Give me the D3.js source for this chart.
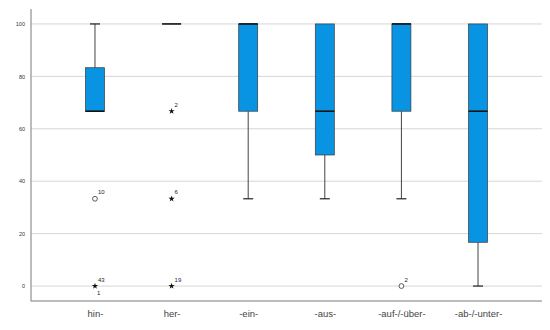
<!DOCTYPE html>
<html>
<head>
<meta charset="utf-8">
<script src="https://cdn.jsdelivr.net/npm/d3@7"></script>
<style>
  body { margin: 0; background: #fff; }
  text { font-family: Arial, "Liberation Sans", sans-serif; }
</style>
</head>
<body>
<div id="chart"></div>
<script>
// Box plot values per category (percent)
const categories = ["hin-", "her-", "-ein-", "-aus-", "-auf-/-über-", "-ab-/-unter-"];
const whiskerLow  = [66.7, 100, 33.3, 33.3, 33.3, 0];
const q1          = [66.7, 100, 66.7, 50, 66.7, 16.7];
const median      = [66.7, 100, 100, 66.7, 100, 66.7];
const q3          = [83.3, 100, 100, 100, 100, 100];
const whiskerHigh = [100, 100, 100, 100, 100, 100];
const yTicks = [0, 20, 40, 60, 80, 100];

// outliers: "o" = circle, "*" = extreme
const outlierCat    = ["hin-", "hin-", "her-", "her-", "her-", "-auf-/-über-"];
const outlierValue  = [33.3, 0, 66.7, 33.3, 0, 0];
const outlierKind   = ["o", "*", "*", "*", "*", "o"];
const outlierCases  = [["10"], ["4", "3", "1"], ["2"], ["6"], ["19"], ["2"]];

const width = 550, height = 330;
const plot = { left: 31, right: 542, top: 9, bottom: 301 };

const svg = d3.select("#chart").append("svg")
    .attr("width", width)
    .attr("height", height);

const x = d3.scalePoint().domain(categories).range([plot.left, plot.right]).padding(0.835);
const y = d3.scaleLinear().domain([-5.7, 105.7]).range([plot.bottom, plot.top]);

// gridlines
svg.append("g")
    .selectAll("line")
    .data(yTicks)
    .join("line")
    .attr("x1", plot.left).attr("x2", plot.right)
    .attr("y1", d => y(d)).attr("y2", d => y(d))
    .attr("stroke", "#d6d6d6")
    .attr("stroke-width", 1);

// y axis
const yAxis = svg.append("g")
    .attr("transform", `translate(${plot.left},0)`)
    .call(d3.axisLeft(y).tickValues(yTicks).tickSize(0).tickPadding(6));
yAxis.select(".domain").remove();
yAxis.selectAll("text").attr("font-size", "5.5px").attr("fill", "#333");

// x axis
const xAxis = svg.append("g")
    .attr("transform", `translate(0,${plot.bottom})`)
    .call(d3.axisBottom(x).tickSize(0).tickPadding(9));
xAxis.select(".domain").remove();
xAxis.selectAll("text").attr("font-size", "9.5px").attr("fill", "#444");

// axis lines
svg.append("line")
    .attr("x1", plot.left).attr("x2", plot.left).attr("y1", plot.top).attr("y2", plot.bottom + 0.5)
    .attr("stroke", "#a6a6a6").attr("stroke-width", 1.5);
svg.append("line")
    .attr("x1", plot.left).attr("x2", plot.right).attr("y1", plot.bottom).attr("y2", plot.bottom)
    .attr("stroke", "#a6a6a6").attr("stroke-width", 1.5);

const boxW = 19, capW = 10;
const boxes = categories.map((c, i) => ({
  c, lo: whiskerLow[i], q1: q1[i], med: median[i], q3: q3[i], hi: whiskerHigh[i]
}));

const g = svg.append("g")
    .selectAll("g")
    .data(boxes)
    .join("g");

// whiskers
g.filter(d => d.hi > d.q3).append("line")
    .attr("x1", d => x(d.c)).attr("x2", d => x(d.c))
    .attr("y1", d => y(d.hi)).attr("y2", d => y(d.q3))
    .attr("stroke", "#444").attr("stroke-width", 1);
g.filter(d => d.lo < d.q1).append("line")
    .attr("x1", d => x(d.c)).attr("x2", d => x(d.c))
    .attr("y1", d => y(d.lo)).attr("y2", d => y(d.q1))
    .attr("stroke", "#444").attr("stroke-width", 1);
// caps
g.filter(d => d.hi > d.q3).append("line")
    .attr("x1", d => x(d.c) - capW / 2).attr("x2", d => x(d.c) + capW / 2)
    .attr("y1", d => y(d.hi)).attr("y2", d => y(d.hi))
    .attr("stroke", "#222").attr("stroke-width", 1.2);
g.filter(d => d.lo < d.q1).append("line")
    .attr("x1", d => x(d.c) - capW / 2).attr("x2", d => x(d.c) + capW / 2)
    .attr("y1", d => y(d.lo)).attr("y2", d => y(d.lo))
    .attr("stroke", "#222").attr("stroke-width", 1.2);

// boxes
g.filter(d => d.q3 > d.q1).append("rect")
    .attr("x", d => x(d.c) - boxW / 2)
    .attr("width", boxW)
    .attr("y", d => y(d.q3))
    .attr("height", d => y(d.q1) - y(d.q3))
    .attr("fill", "#0893e3")
    .attr("stroke", "#3a3a3a")
    .attr("stroke-width", 0.7);

// median
g.append("line")
    .attr("x1", d => x(d.c) - boxW / 2).attr("x2", d => x(d.c) + boxW / 2)
    .attr("y1", d => y(d.med)).attr("y2", d => y(d.med))
    .attr("stroke", "#111").attr("stroke-width", 1.6);

// outliers
const outliers = outlierCat.map((c, i) => ({
  c, v: outlierValue[i], kind: outlierKind[i], cases: outlierCases[i]
}));
const og = svg.append("g")
    .selectAll("g")
    .data(outliers)
    .join("g")
    .attr("transform", d => `translate(${x(d.c)},${y(d.v)})`);

og.filter(d => d.kind === "o").append("circle")
    .attr("r", 2.4)
    .attr("fill", "#fff")
    .attr("stroke", "#333")
    .attr("stroke-width", 0.8);
og.filter(d => d.kind === "*").append("path")
    .attr("d", d3.symbol(d3.symbolStar, 12))
    .attr("fill", "#111");

og.append("text")
    .attr("x", 3)
    .attr("y", -4.5)
    .attr("font-size", "6px")
    .attr("fill", "#222")
    .text(d => d.cases.slice(0, 2).join(""));
og.filter(d => d.cases.length > 2).append("text")
    .attr("x", 2)
    .attr("y", 8.5)
    .attr("font-size", "6px")
    .attr("fill", "#222")
    .text(d => d.cases.slice(2).join(""));
</script>
</body>
</html>
